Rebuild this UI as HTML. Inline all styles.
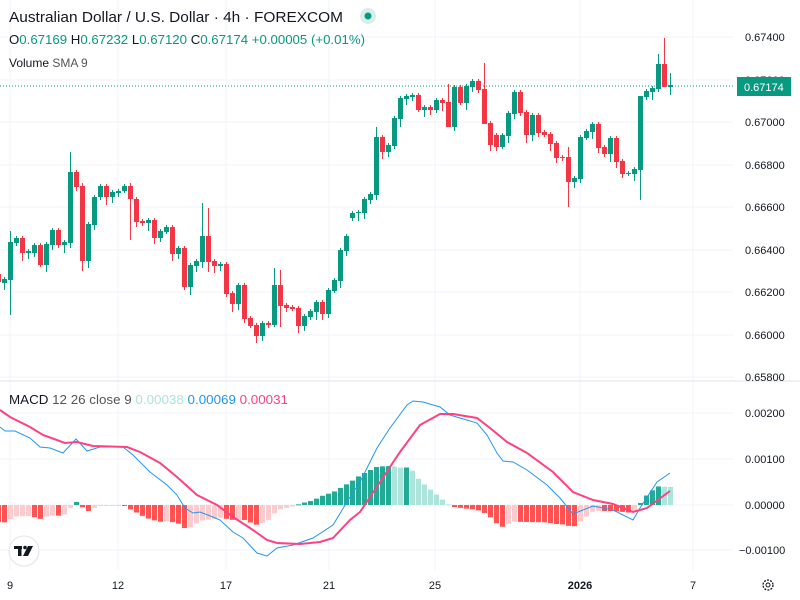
<!DOCTYPE html>
<html><head><meta charset="utf-8"><style>
body{margin:0;background:#fff;width:800px;height:600px;overflow:hidden;font-family:"Liberation Sans",sans-serif}
svg{position:absolute;left:0;top:0}
</style></head><body>
<svg id="s" width="800" height="600" xmlns="http://www.w3.org/2000/svg" font-family="Liberation Sans, sans-serif"></svg>
<script>
let h='';const s=document.getElementById('s');
const vx=[10,118,226,329,435,580,693];
const hy=[37,80,122,165,207,250,292,335,377];
vx.forEach(x=>h+=`<line x1="${x}" y1="0" x2="${x}" y2="570" stroke="#f0f3fa" stroke-width="1"/>`);
hy.forEach(y=>h+=`<line x1="0" y1="${y}" x2="733" y2="${y}" stroke="#f0f3fa"/>`);
[413,459,505,550].forEach(y=>h+=`<line x1="0" y1="${y}" x2="733" y2="${y}" stroke="#f0f3fa"/>`);
h+=`<line x1="0" y1="381" x2="800" y2="381" stroke="#e0e3eb"/>`;
const C=[[274,282,0],[279,283,1],[242,280,1],[238,243,1],[238,253,0],[251,253,1],[245,253,1],[245,265,0],[244,265,1],[230,245,1],[230,245,0],[242,245,1],[172,243,1],[172,187,0],[186,261,0],[224,261,1],[197,225,1],[186,197,1],[186,197,0],[192,197,1],[191,193,1],[186,191,1],[186,199,0],[199,222,0],[221,223,0],[220,223,1],[220,238,0],[231,238,1],[227,232,1],[227,254,0],[248,254,1],[248,287,0],[265,287,1],[261,266,1],[236,262,1],[236,262,0],[261,266,0],[264,266,1],[264,294,0],[293,304,0],[285,304,1],[285,319,0],[318,326,0],[325,336,0],[323,336,1],[323,325,0],[285,325,1],[285,306,0],[305,308,0],[307,309,0],[308,326,0],[316,326,1],[311,317,1],[302,312,1],[302,314,0],[290,314,1],[280,291,1],[250,281,1],[236,251,1],
[213,218,1],[212,213,1],[199,213,1],[194,200,1],[137,195,1],[137,152,0],[145,152,1],[118,146,1],[98,119,1],[96,99,1],[95,97,1],[95,110,0],[107,110,1],[107,110,0],[100,110,1],[100,103,0],[102,127,0],[87,127,1],[87,103,0],[86,103,1],[81,87,1],[81,90,0],[89,124,0],[123,145,0],[135,147,0],[135,147,1],[113,136,1],[92,114,1],[92,113,0],[112,135,0],[115,135,1],[115,133,0],[132,135,0],[134,144,0],[143,158,0],[157,158,0],[157,182,0],[178,182,1],[137,179,1],[131,138,1],[124,132,1],[124,148,0],[147,154,0],[138,154,1],[138,162,0],[161,174,0],[173,174,1],[169,174,1],[96,170,1],[91,97,1],[88,92,1],[64,89,1],[64,87,0],[85,87,1]];
const ov={2:[231,315],12:[152,248],14:[183,271],34:[203,268],35:[208,272],46:[268,327],47:[270,327],95:[147,207],107:[145,200],111:[38,87],110:[54,92],112:[73,95],81:[63,95],75:[84,120],63:[127,200],22:[183,240]};
C.forEach((c,i)=>{const x=6*i-2;const col=c[2]?'#089981':'#f23645';
let hi=c[0]-(2+((i*7)%7)),lo=c[1]+(2+((i*5)%7));if(ov[i]){hi=ov[i][0];lo=ov[i][1];}
h+=`<line x1="${x+0.5}" y1="${hi}" x2="${x+0.5}" y2="${lo}" stroke="${col}"/>`;
h+=`<rect x="${x-2}" y="${c[0]}" width="5" height="${Math.max(1,c[1]-c[0])}" fill="${col}"/>`;});
h+=`<line x1="0" y1="86" x2="733" y2="86" stroke="#089981" stroke-dasharray="1,2"/>`;
const B=[[0,427],[5,431],[15,431],[30,438],[40,447],[50,448],[63,453],[76,439],[87,451],[100,447],[123,447],[133,455],[150,472],[167,485],[177,495],[185,508],[193,513],[200,512],[213,517],[220,520],[233,532],[243,538],[257,553],[267,556],[277,548],[293,545],[313,538],[333,525],[350,497],[360,482],[377,448],[390,428],[407,405],[413,401],[423,402],[440,407],[450,415],[460,418],[477,423],[487,435],[497,453],[503,461],[513,462],[527,470],[547,485],[560,498],[573,514],[593,506],[613,510],[633,520],[640,508],[657,482],[670,473]];
const P=[[0,410],[10,417],[30,427],[43,435],[65,443],[77,442],[93,446],[127,447],[140,452],[160,463],[177,477],[197,495],[217,505],[233,517],[250,528],[267,540],[277,543],[300,544],[320,542],[333,538],[350,520],[360,512],[380,482],[400,452],[420,425],[440,414],[453,414],[477,418],[490,428],[507,442],[527,453],[553,472],[573,492],[593,500],[613,504],[633,512],[647,508],[670,491]];
function it(a,x){for(let k=0;k<a.length-1;k++){if(x<=a[k+1][0]){const t=(x-a[k][0])/(a[k+1][0]-a[k][0]);return a[k][1]+t*(a[k+1][1]-a[k][1]);}}return a[a.length-1][1];}
let prev=null;
for(let i=0;i<=112;i++){const x=6*i-2;const hv=-(it(B,Math.max(0,x))-it(P,Math.max(0,x)));let col;
if(hv>=0)col=(prev===null||hv>=prev)?'#22ab94':'#ace5dc';else col=(prev===null||hv<=prev)?'#ff5252':'#fccbcd';
prev=hv;const y0=505,y1=505-hv;h+=`<rect x="${x-2}" y="${Math.min(y0,y1)}" width="5" height="${Math.max(1,Math.abs(y1-y0))}" fill="${col}"/>`;}
h+=`<polyline points="${B.map(p=>p.join(',')).join(' ')}" fill="none" stroke="#2196f3" stroke-width="1"/>`;
h+=`<polyline points="${P.map(p=>p.join(',')).join(' ')}" fill="none" stroke="#ff4081" stroke-width="2"/>`;
const pl=[[37,'0.67400'],[122,'0.67000'],[165,'0.66800'],[207,'0.66600'],[250,'0.66400'],[292,'0.66200'],[335,'0.66000'],[377,'0.65800'],[80,'0.67200']];
pl.forEach(p=>h+=`<text x="745" y="${p[0]+4}" font-size="11" fill="#131722">${p[1]}</text>`);
h+=`<rect x="737" y="77" width="54" height="19" fill="#089981"/><text x="744" y="91" font-size="11" fill="#fff">0.67174</text>`;
[[413,'0.00200'],[459,'0.00100'],[505,'0.00000']].forEach(p=>h+=`<text x="745" y="${p[0]+4}" font-size="11" fill="#131722">${p[1]}</text>`);
h+=`<text x="739" y="554" font-size="11" fill="#131722">−0.00100</text>`;
[[10,'9'],[118,'12'],[226,'17'],[329,'21'],[435,'25'],[580,'2026'],[693,'7']].forEach(p=>h+=`<text x="${p[0]}" y="589" font-size="11" fill="#131722" text-anchor="middle" ${p[1]=='2026'?'font-weight="bold"':''}>${p[1]}</text>`);
h+=`<circle cx="768" cy="585" r="5" fill="none" stroke="#131722" stroke-width="1.3" stroke-dasharray="2,1.2"/><circle cx="768" cy="585" r="2" fill="none" stroke="#131722"/>`;
h+=`<text x="9" y="22" font-size="15" fill="#131722" textLength="334" lengthAdjust="spacingAndGlyphs">Australian Dollar / U.S. Dollar · 4h · FOREXCOM</text>`;
h+=`<circle cx="368" cy="16" r="8" fill="#d6efe9"/><circle cx="368" cy="16" r="3.5" fill="#089981"/>`;
h+=`<text x="9" y="44" font-size="13" fill="#131722" textLength="356" lengthAdjust="spacingAndGlyphs">O<tspan fill="#089981">0.67169</tspan>  H<tspan fill="#089981">0.67232</tspan>  L<tspan fill="#089981">0.67120</tspan>  C<tspan fill="#089981">0.67174 +0.00005 (+0.01%)</tspan></text>`;
h+=`<text x="9" y="67" font-size="12" fill="#131722">Volume <tspan fill="#555">SMA 9</tspan></text>`;
h+=`<text x="9" y="404" font-size="13" fill="#131722" textLength="279" lengthAdjust="spacingAndGlyphs">MACD <tspan fill="#555">12 26 close 9</tspan>  <tspan fill="#ace5dc">0.00038</tspan>  <tspan fill="#2196f3">0.00069</tspan>  <tspan fill="#ff4081">0.00031</tspan></text>`;
h+=`<circle cx="24" cy="551" r="15" fill="#fff" stroke="#e0e3eb"/>`;
h+=`<rect x="14" y="546" width="8" height="3" fill="#131722"/><rect x="18" y="546" width="3.5" height="10" fill="#131722"/><circle cx="25" cy="547.5" r="1.8" fill="#131722"/><polygon points="28,546 33,546 28,556 23,556" fill="#131722"/>`;
s.innerHTML=h;
</script>
</body></html>
